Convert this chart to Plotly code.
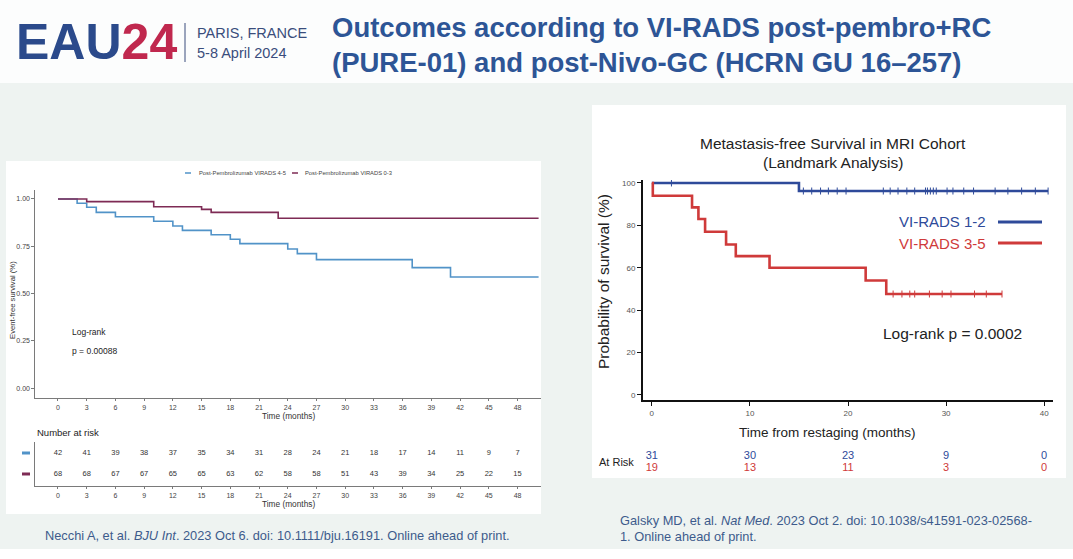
import plotly.graph_objects as go

W, H = 1073, 559
def px(x): return x / W
def py(y): return 1 - y / H

FONT = "Liberation Sans, Arial, sans-serif"

# ---------------- data: left chart (PURE-01) ----------------
left_ticks = list(range(0, 49, 3))
left_blue_t = [0, 2, 3, 4, 6, 10, 12, 13, 16, 18, 19, 24, 25, 27, 37, 41, 50.2]
left_blue_s = [1.0, 0.977, 0.956, 0.929, 0.906, 0.882, 0.857, 0.834, 0.811, 0.787,
               0.764, 0.735, 0.711, 0.679, 0.637, 0.587, 0.587]
left_purple_t = [0, 3, 10, 15, 16, 23, 50.2]
left_purple_s = [1.0, 0.986, 0.959, 0.945, 0.929, 0.898, 0.898]
left_risk_blue = [42, 41, 39, 38, 37, 35, 34, 31, 28, 24, 21, 18, 17, 14, 11, 9, 7]
left_risk_purple = [68, 68, 67, 67, 65, 65, 63, 62, 58, 58, 51, 43, 39, 34, 25, 22, 15]
left_yticks = [0, 0.25, 0.5, 0.75, 1.0]
left_yticklabels = ["0.00", "0.25", "0.50", "0.75", "1.00"]

# ---------------- data: right chart (HCRN GU 16-257) ----------------
right_ticks = [0, 10, 20, 30, 40]
right_blue_t = [0, 15.0, 40.4]
right_blue_s = [100, 96.2, 96.2]
right_blue_cens_t = [2.0, 15.45, 16.3, 17.2, 18.0, 18.9, 19.8, 23.6, 24.3, 25.1, 26.0, 26.8,
                     27.9, 28.1, 28.4, 28.7, 29.0, 30.1, 30.7, 31.8, 32.8, 35.0, 36.3, 37.7,
                     39.1, 40.4]
right_blue_cens_s = [100] + [96.2] * 25
right_red_t = [0, 0.1, 4.1, 4.75, 5.43, 7.57, 8.56, 12.0, 21.8, 23.9, 35.7]
right_red_s = [100, 94, 88.5, 83, 77, 71, 65.5, 60, 54, 47.6, 47.6]
right_red_cens_t = [24.6, 25.5, 26.3, 26.8, 28.3, 29.6, 30.5, 32.9, 34.1, 35.7]
right_red_cens_s = [47.6] * 10
right_risk_blue = [31, 30, 23, 9, 0]
right_risk_red = [19, 13, 11, 3, 0]
right_yticks = [0, 20, 40, 60, 80, 100]

# colours
C_LBLUE = "#5193c8"
C_LPURP = "#7e2b55"
C_RBLUE = "#2e4a9a"
C_RRED = "#cf3a3a"

fig = go.Figure()

# left KM curves
fig.add_trace(go.Scatter(x=left_blue_t, y=left_blue_s, mode="lines", line_shape="hv",
                         line=dict(color=C_LBLUE, width=1.6), xaxis="x", yaxis="y",
                         name="Post-Pembrolizumab VIRADS 4-5", showlegend=False))
fig.add_trace(go.Scatter(x=left_purple_t, y=left_purple_s, mode="lines", line_shape="hv",
                         line=dict(color=C_LPURP, width=1.6), xaxis="x", yaxis="y",
                         name="Post-Pembrolizumab VIRADS 0-3", showlegend=False))
# left risk table
fig.add_trace(go.Scatter(x=left_ticks, y=[2] * len(left_ticks), mode="text",
                         text=[str(v) for v in left_risk_blue], xaxis="x2", yaxis="y2",
                         textfont=dict(size=7.5, color="#333", family=FONT), showlegend=False))
fig.add_trace(go.Scatter(x=left_ticks, y=[1] * len(left_ticks), mode="text",
                         text=[str(v) for v in left_risk_purple], xaxis="x2", yaxis="y2",
                         textfont=dict(size=7.5, color="#333", family=FONT), showlegend=False))

# right KM curves
fig.add_trace(go.Scatter(x=right_blue_t, y=right_blue_s, mode="lines", line_shape="hv",
                         line=dict(color=C_RBLUE, width=2.6), xaxis="x3", yaxis="y3",
                         name="VI-RADS 1-2", showlegend=False))
fig.add_trace(go.Scatter(x=right_red_t, y=right_red_s, mode="lines", line_shape="hv",
                         line=dict(color=C_RRED, width=2.6), xaxis="x3", yaxis="y3",
                         name="VI-RADS 3-5", showlegend=False))
fig.add_trace(go.Scatter(x=right_blue_cens_t, y=right_blue_cens_s, mode="markers",
                         marker=dict(symbol="line-ns", size=5, line=dict(color=C_RBLUE, width=1)),
                         xaxis="x3", yaxis="y3", showlegend=False))
fig.add_trace(go.Scatter(x=right_red_cens_t, y=right_red_cens_s, mode="markers",
                         marker=dict(symbol="line-ns", size=5, line=dict(color=C_RRED, width=1)),
                         xaxis="x3", yaxis="y3", showlegend=False))
# right risk table
fig.add_trace(go.Scatter(x=right_ticks, y=[1.5] * 5, mode="text",
                         text=[str(v) for v in right_risk_blue], xaxis="x4", yaxis="y4",
                         textfont=dict(size=11, color=C_RBLUE, family=FONT), showlegend=False))
fig.add_trace(go.Scatter(x=right_ticks, y=[0.5] * 5, mode="text",
                         text=[str(v) for v in right_risk_red], xaxis="x4", yaxis="y4",
                         textfont=dict(size=11, color=C_RRED, family=FONT), showlegend=False))

left_dom_x = [px(35), px(540.5)]
right_dom_x = [px(643), px(1053)]

fig.update_layout(
    width=W, height=H, autosize=False,
    margin=dict(l=0, r=0, t=0, b=0),
    paper_bgcolor="white", plot_bgcolor="rgba(0,0,0,0)",
    font=dict(family=FONT),
    xaxis=dict(domain=left_dom_x, range=[-2.4, 50.4], anchor="y",
               tickvals=left_ticks, ticks="outside", ticklen=2.5, tickcolor="#7a7a7a",
               showline=True, linecolor="#7a7a7a", linewidth=1.3, showgrid=False,
               zeroline=False, tickfont=dict(size=7, color="#444")),
    yaxis=dict(domain=[py(397.5), py(189.5)], range=[-0.05, 1.05], anchor="x",
               tickvals=left_yticks, ticktext=left_yticklabels, ticks="outside",
               ticklen=2.5, tickcolor="#7a7a7a", showline=True, linecolor="#7a7a7a",
               linewidth=1.3, showgrid=False, zeroline=False,
               tickfont=dict(size=7, color="#444")),
    xaxis2=dict(domain=left_dom_x, range=[-2.4, 50.4], anchor="y2",
                tickvals=left_ticks, ticks="outside", ticklen=2, tickcolor="#7a7a7a",
                showline=True, linecolor="#7a7a7a", linewidth=1.3, showgrid=False,
                zeroline=False, tickfont=dict(size=7, color="#444")),
    yaxis2=dict(domain=[py(486), py(442)], range=[0.428, 2.524], anchor="x2",
                showline=True, linecolor="#7a7a7a", linewidth=1.3, showgrid=False,
                zeroline=False, showticklabels=False, ticks=""),
    xaxis3=dict(domain=right_dom_x, range=[-0.9, 40.9], anchor="y3",
                tickvals=right_ticks, ticks="outside", ticklen=4, tickwidth=1.2,
                tickcolor="#111", showline=True, linecolor="#111", linewidth=2,
                showgrid=False, zeroline=False, tickfont=dict(size=8, color="#555")),
    yaxis3=dict(domain=[py(400), py(180)], range=[-2.4, 101.4], anchor="x3",
                tickvals=right_yticks, ticks="outside", ticklen=4, tickwidth=1.2,
                tickcolor="#111", showline=True, linecolor="#111", linewidth=2,
                showgrid=False, zeroline=False, tickfont=dict(size=8, color="#555")),
    xaxis4=dict(domain=right_dom_x, range=[-0.9, 40.9], anchor="y4", visible=False),
    yaxis4=dict(domain=[py(474), py(450)], range=[0, 2], anchor="x4", visible=False),
)

shapes = [
    # slide background
    dict(type="rect", xref="paper", yref="paper", x0=0, x1=1, y0=py(83), y1=1,
         fillcolor="#fcfdfd", line_width=0, layer="below"),
    dict(type="rect", xref="paper", yref="paper", x0=0, x1=1, y0=py(549), y1=py(83),
         fillcolor="#eef3f1", line_width=0, layer="below"),
    dict(type="rect", xref="paper", yref="paper", x0=px(6), x1=px(541), y0=py(514), y1=py(161),
         fillcolor="white", line_width=0, layer="below"),
    dict(type="rect", xref="paper", yref="paper", x0=px(592), x1=px(1066), y0=py(478), y1=py(105),
         fillcolor="white", line_width=0, layer="below"),
    # logo divider
    dict(type="line", xref="paper", yref="paper", x0=px(185), x1=px(185), y0=py(23), y1=py(62),
         line=dict(color="#3a4d7c", width=1)),
    # left legend keys
    dict(type="line", xref="paper", yref="paper", x0=px(185), x1=px(191), y0=py(173), y1=py(173),
         line=dict(color=C_LBLUE, width=1.5)),
    dict(type="line", xref="paper", yref="paper", x0=px(292), x1=px(298), y0=py(173), y1=py(173),
         line=dict(color=C_LPURP, width=1.5)),
    # left risk table keys
    dict(type="line", xref="paper", yref="y2", x0=px(22), x1=px(30), y0=2, y1=2,
         line=dict(color=C_LBLUE, width=3)),
    dict(type="line", xref="paper", yref="y2", x0=px(22), x1=px(30), y0=1, y1=1,
         line=dict(color=C_LPURP, width=3)),
    # right legend keys
    dict(type="line", xref="paper", yref="paper", x0=px(998), x1=px(1042), y0=py(222), y1=py(222),
         line=dict(color=C_RBLUE, width=3)),
    dict(type="line", xref="paper", yref="paper", x0=px(998), x1=px(1042), y0=py(243), y1=py(243),
         line=dict(color=C_RRED, width=3)),
]
fig.update_layout(shapes=shapes)

def ann(x, y, text, size, color="#222", xanchor="center", angle=0, **kw):
    fig.add_annotation(x=px(x), y=py(y), xref="paper", yref="paper", text=text,
                       showarrow=False, xanchor=xanchor, yanchor="middle", textangle=angle,
                       font=dict(size=size, color=color, family=FONT), **kw)

# header
ann(14, 42, "<b>EAU<span style='color:#c0284e'>24</span></b>", 50, "#2b4a8b", "left")
ann(195, 33, "PARIS, FRANCE", 14.5, "#3a4d7c", "left")
ann(195, 53, "5-8 April 2024", 14.5, "#3a4d7c", "left")
ann(330, 28, "<b>Outcomes according to VI-RADS post-pembro+RC</b>", 27.5, "#2d5596", "left")
ann(330, 62, "<b>(PURE-01) and post-Nivo-GC (HCRN GU 16–257)</b>", 27.5, "#2d5596", "left")

# left chart texts
ann(197, 173, "Post-Pembrolizumab VIRADS 4-5", 5.8, "#444", "left")
ann(303, 173, "Post-Pembrolizumab VIRADS 0-3", 5.8, "#444", "left")
ann(12, 300, "Event-free survival (%)", 7.7, "#333", angle=-90)
ann(70, 332, "Log-rank", 8.5, "#222", "left")
ann(70, 351, "p = 0.00088", 8.5, "#222", "left")
ann(288, 415.5, "Time (months)", 8.3, "#333")
ann(35, 432, "Number at risk", 9.5, "#222", "left")
ann(288, 504, "Time (months)", 8.3, "#333")

# right chart texts
ann(833, 143, "Metastasis-free Survival in MRI Cohort", 15.5, "#222")
ann(833, 162, "(Landmark Analysis)", 15.5, "#222")
ann(603, 282, "Probability of survival (%)", 15.5, "#222", angle=-90)
ann(988, 222, "VI-RADS 1-2", 15, C_RBLUE, "right")
ann(988, 243, "VI-RADS 3-5", 15, C_RRED, "right")
ann(952, 333, "Log-rank p = 0.0002", 15.5, "#222")
ann(827, 432, "Time from restaging (months)", 13.5, "#222")
ann(597, 462, "At Risk", 11, "#222", "left")

# footers
ann(43, 535, "Necchi A, et al. <i>BJU Int</i>. 2023 Oct 6. doi: 10.1111/bju.16191. Online ahead of print.",
    12.8, "#3d5b8c", "left")
ann(618, 520, "Galsky MD, et al. <i>Nat Med</i>. 2023 Oct 2. doi: 10.1038/s41591-023-02568-",
    12.8, "#3d5b8c", "left")
ann(618, 536, "1. Online ahead of print.", 12.8, "#3d5b8c", "left")

fig.write_html("out.html", config={"displayModeBar": False},
               post_script="document.body.style.margin='0';document.body.style.padding='0';"
                           "document.body.style.overflow='hidden';")
